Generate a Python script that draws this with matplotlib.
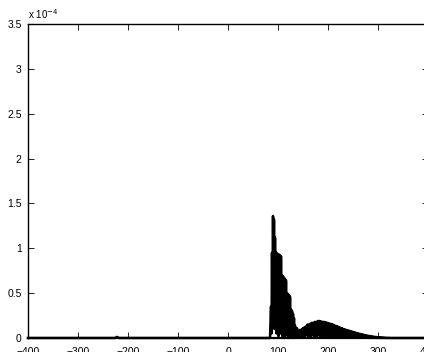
import matplotlib
matplotlib.use("Agg")
import matplotlib.pyplot as plt
import numpy as np

# values in units of 1e-4
peak_x = [86, 88, 90, 92, 94, 96, 98, 100, 102, 104, 106, 108, 110, 112, 114, 116,
          118, 120, 122, 124, 126, 128, 130, 132, 134, 136, 138, 140, 142, 144, 146,
          148, 150, 153, 156, 159, 162, 165, 168, 171, 174, 177, 180, 183, 186, 189,
          192, 195, 198, 201, 204, 207, 210, 213, 216, 219, 222, 225, 228, 231, 234,
          237, 240, 243, 246, 249, 252, 255, 258, 261, 264, 267, 270, 273, 276, 279,
          282, 285, 288, 291, 294, 297, 300, 303, 306, 309, 312, 315, 318, 321, 325]
peak_y = [0.35, 0.95, 1.36, 1.32, 1.12, 0.96, 0.94, 0.93, 0.93, 0.92, 0.91, 0.70, 0.69,
          0.67, 0.66, 0.64, 0.50, 0.49, 0.48, 0.46, 0.32, 0.30, 0.27, 0.22, 0.14, 0.09,
          0.11, 0.08, 0.06, 0.09, 0.07, 0.10, 0.11, 0.12, 0.13, 0.15, 0.15, 0.16, 0.17,
          0.17, 0.18, 0.18, 0.19, 0.19, 0.185, 0.18, 0.18, 0.175, 0.17, 0.165, 0.16,
          0.155, 0.15, 0.14, 0.135, 0.13, 0.12, 0.115, 0.11, 0.10, 0.095, 0.09, 0.085,
          0.08, 0.075, 0.07, 0.065, 0.06, 0.055, 0.05, 0.046, 0.042, 0.038, 0.034,
          0.03, 0.027, 0.024, 0.021, 0.018, 0.015, 0.013, 0.011, 0.009, 0.007, 0.006,
          0.005, 0.004, 0.003, 0.002, 0.001, 0.0]
trough_y = [0.05, 0.20, 0.40, 0.10, 0.30, 0.05, 0.25, 0.02, 0.20, 0.05, 0.15, 0.02, 0.12,
            0.0, 0.10, 0.03, 0.12, 0.0, 0.08, 0.02, 0.08, 0.0, 0.06, 0.02, 0.03, 0.02,
            0.03, 0.02, 0.02, 0.01, 0.02, 0.01, 0.03, 0.02, 0.04, 0.01, 0.03, 0.02,
            0.04, 0.01, 0.03, 0.02, 0.04, 0.01, 0.03, 0.02, 0.03, 0.01, 0.02, 0.01,
            0.02, 0.01, 0.02, 0.01, 0.02, 0.01, 0.02, 0.01, 0.01, 0.01, 0.01, 0.01,
            0.01, 0.005, 0.01, 0.005, 0.005, 0.005, 0.005, 0.005, 0.003, 0.003,
            0.003, 0.002, 0.002, 0.002, 0.001, 0.001, 0.001, 0.001, 0.001, 0.0, 0.0,
            0.0, 0.0, 0.0, 0.0, 0.0, 0.0, 0.0, 0.0]

bump_x = [-226, -222, -218]
bump_y = [0.0, 0.012, 0.0]

x_ticks = [-400, -300, -200, -100, 0, 100, 200, 300, 400]
y_ticks = [0, 0.5, 1, 1.5, 2, 2.5, 3, 3.5]

# build the oscillating signal from the listed peaks and troughs
xs = [-400] + bump_x + [84]
ys = [0.0] + bump_y + [0.0]
for i in range(len(peak_x)):
    xs.append(peak_x[i])
    ys.append(peak_y[i])
    nxt = peak_x[i + 1] if i + 1 < len(peak_x) else peak_x[i] + 2
    xs.append((peak_x[i] + nxt) / 2)
    ys.append(trough_y[i])
xs += [400]
ys += [0.0]

plt.rcParams['font.family'] = ['Liberation Sans', 'DejaVu Sans']
fig = plt.figure(figsize=(4.24, 3.52), dpi=100)
ax = fig.add_axes([28 / 424, 14 / 352, 400 / 424, 314 / 352])
ax.plot(xs, ys, color='black', linewidth=1.8, clip_on=False)
ax.set_xlim(-400, 400)
ax.set_ylim(0, 3.5)
ax.set_xticks(x_ticks)
ax.set_yticks(y_ticks)
ax.set_xticklabels([str(v).replace('-', '\u2212') for v in x_ticks])
ax.set_yticklabels(['0', '0.5', '1', '1.5', '2', '2.5', '3', '3.5'])
ax.tick_params(direction='in', length=4, width=0.6, labelsize=7.5, top=True, right=True)
ax.tick_params(axis='x', pad=6.5)
ax.tick_params(axis='y', pad=4.5)
for s in ax.spines.values():
    s.set_linewidth(1.0)
ax.spines['bottom'].set_linewidth(1.6)
ax.text(0.0, 1.008, 'x 10$^{-4}$', transform=ax.transAxes, fontsize=7, ha='left', va='bottom')
fig.savefig('out.png', dpi=100)
